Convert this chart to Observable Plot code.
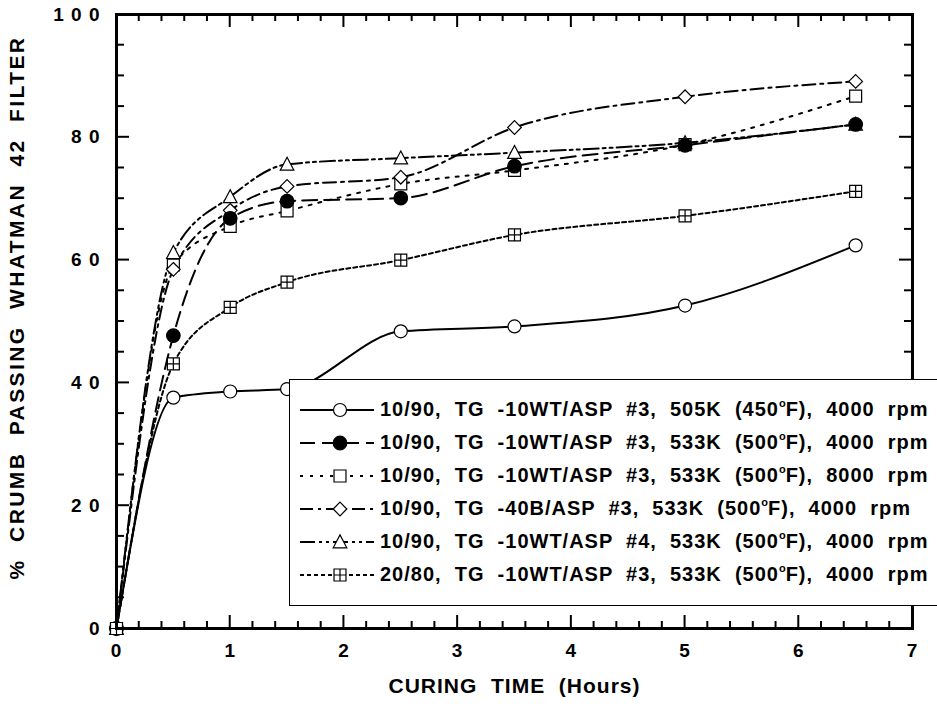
<!DOCTYPE html>
<html><head><meta charset="utf-8">
<script src="https://cdn.jsdelivr.net/npm/d3@7"></script>
<script src="https://cdn.jsdelivr.net/npm/@observablehq/plot@0.6"></script>
<style>
body{margin:0;background:#fff;}
#wrap{position:relative;width:937px;height:706px;overflow:hidden;font-family:"Liberation Sans",Arial,sans-serif;}
#wrap svg text{white-space:pre;}
#ticks{position:absolute;left:0;top:0;pointer-events:none;}
#legend{position:absolute;left:289px;top:379px;width:660px;height:227px;border:1.5px solid #000;background:#fff;box-sizing:border-box;padding-top:13px;}
.row{display:flex;align-items:center;height:33px;}
.row svg{flex:none;margin-left:8px;}
.row span{white-space:pre;font:bold 20px "Liberation Sans",Arial,sans-serif;letter-spacing:1px;margin-left:6px;color:#000;}
.row sup{font-size:11px;vertical-align:9px;line-height:0;letter-spacing:0;}
</style></head><body><div id="wrap"></div>
<script>
// ---- data ----
const hours = [0, 0.5, 1, 1.5, 2.5, 3.5, 5, 6.5];
const seriesNames = [
  "10/90,  TG  -10WT/ASP  #3,  505K  (450°F),  4000  rpm",
  "10/90,  TG  -10WT/ASP  #3,  533K  (500°F),  4000  rpm",
  "10/90,  TG  -10WT/ASP  #3,  533K  (500°F),  8000  rpm",
  "10/90,  TG  -40B/ASP  #3,  533K  (500°F),  4000  rpm",
  "10/90,  TG  -10WT/ASP  #4,  533K  (500°F),  4000  rpm",
  "20/80,  TG  -10WT/ASP  #3,  533K  (500°F),  4000  rpm"
];
const s1 = [0, 37.6, 38.6, 39.0, 48.4, 49.2, 52.6, 62.4];
const s2 = [0, 47.7, 66.8, 69.6, 70.1, 75.3, 78.7, 82.1];
const s3 = [0, 59.2, 65.5, 68.0, 72.4, 74.6, 78.8, 86.7];
const s4 = [0, 58.5, 68.1, 72.0, 73.5, 81.6, 86.6, 89.1];
const s5 = [0, 61.2, 70.3, 75.6, 76.6, 77.5, 79.1, 82.1];
const s6 = [0, 43.1, 52.3, 56.4, 60.0, 64.1, 67.2, 71.2];
const seriesValues = [s1, s2, s3, s4, s5, s6];
const xTicks = [0, 1, 2, 3, 4, 5, 6, 7];
const yTicks = [0, 20, 40, 60, 80, 100];
const xTitle = "CURING  TIME  (Hours)";
const yTitle = "%  CRUMB  PASSING  WHATMAN  42  FILTER";

// ---- styles ----
const dashes = ["none", "15,7", "3,7", "13,5,3,5", "15,4,3,4,3,4", "4,3"];
const fills = ["white", "black", "white", "white", "white", "white"];
const squareSym = {draw(c, size){const h = Math.sqrt(size/Math.PI)*0.92; c.moveTo(-h,-h); c.lineTo(h,-h); c.lineTo(h,h); c.lineTo(-h,h); c.closePath();}};
const diamondSym = {draw(c, size){const h = Math.sqrt(size/Math.PI)*1.05; c.moveTo(0,-h); c.lineTo(h,0); c.lineTo(0,h); c.lineTo(-h,0); c.closePath();}};
const triangleSym = {draw(c, size){const r = Math.sqrt(size/Math.PI); c.moveTo(0,-r*1.05); c.lineTo(r*1.0,r*0.85); c.lineTo(-r*1.0,r*0.85); c.closePath();}};
const squarePlusSym = {draw(c, size){const h = Math.sqrt(size/Math.PI)*0.92; c.moveTo(-h,-h); c.lineTo(h,-h); c.lineTo(h,h); c.lineTo(-h,h); c.closePath(); c.moveTo(0,-h); c.lineTo(0,h); c.moveTo(-h,0); c.lineTo(h,0);}};
const symbols = ["circle", "circle", squareSym, diamondSym, triangleSym, squarePlusSym];
const radii = [6.5, 6.8, 6.5, 6.5, 6.8, 6.5];
const dotOrder = [0, 2, 3, 4, 1, 5];

const rows = [];
seriesValues.forEach((vals, i) => hours.forEach((h, j) => rows.push({series: i, x: h, y: vals[j]})));
const minorX = d3.range(0, 35).map(i => i / 5).filter(v => !Number.isInteger(v));
const minorY = d3.range(0, 21).map(i => i * 5).filter(v => v % 20 !== 0);
const spaced = d => String(d).split("").join(" ");

const marks = [];
seriesValues.forEach((vals, i) => {
  marks.push(Plot.line(rows.filter(r => r.series === i), {x: "x", y: "y", curve: "monotone-x", stroke: "black", strokeWidth: 2, strokeDasharray: dashes[i]}));
});
dotOrder.forEach(i => {
  marks.push(Plot.dot(rows.filter(r => r.series === i), {x: "x", y: "y", symbol: symbols[i], r: radii[i], fill: fills[i], stroke: "black", strokeWidth: 1.2}));
});
marks.push(Plot.axisX({ticks: xTicks, tickSize: 0, tickPadding: 15, tickFormat: d => String(d), fontSize: 19, fontWeight: "bold", label: null}));
marks.push(Plot.axisY({ticks: yTicks, tickSize: 0, tickPadding: 16, tickFormat: spaced, fontSize: 19, fontWeight: "bold", label: null}));
marks.push(Plot.frame({stroke: "black", strokeWidth: 3}));
marks.push(Plot.text([xTitle], {frameAnchor: "bottom", dy: 64, fontSize: 21, fontWeight: "bold"}));
marks.push(Plot.text([yTitle], {frameAnchor: "left", textAnchor: "middle", rotate: -90, dx: -99, dy: -14, fontSize: 21, fontWeight: "bold"}));

const chart = Plot.plot({
  width: 937, height: 706,
  marginLeft: 116, marginRight: 25, marginTop: 14, marginBottom: 78,
  x: {domain: [0, 7]},
  y: {domain: [0, 100]},
  style: {fontFamily: '"Liberation Sans", Arial, sans-serif', color: "black", background: "white", letterSpacing: "1px", overflow: "visible"},
  marks
});
const wrap = document.getElementById("wrap");
wrap.appendChild(chart);
try {
  d3.select(chart).selectAll("text").filter(function(){ return this.textContent === yTitle; }).style("letter-spacing", "2.4px");
} catch (e) {}

// ---- inward ticks on all four sides, placed with the chart's own scales (overlay) ----
try {
  const xs = chart.scale("x"), ys = chart.scale("y");
  const mainSvg = chart.tagName.toLowerCase() === "svg" ? chart :
    Array.from(chart.querySelectorAll("svg")).sort((a, b) => (b.clientWidth * b.clientHeight) - (a.clientWidth * a.clientHeight))[0];
  const wr = wrap.getBoundingClientRect(), sr = mainSvg.getBoundingClientRect();
  const ox = sr.left - wr.left, oy = sr.top - wr.top;
  const yBottom = ys.apply(0), yTop = ys.apply(100);
  const xLeft = xs.apply(0), xRight = xs.apply(7);
  const overlay = d3.create("svg").attr("id", "ticks").attr("width", 937).attr("height", 706);
  const tg = overlay.append("g").attr("transform", `translate(${ox},${oy})`)
    .attr("stroke", "black").attr("stroke-width", 2).attr("fill", "none");
  [[xTicks, 13], [minorX, 7]].forEach(([vals, len]) => vals.forEach(v => {
    const px = xs.apply(v);
    tg.append("line").attr("x1", px).attr("x2", px).attr("y1", yBottom).attr("y2", yBottom - len);
    tg.append("line").attr("x1", px).attr("x2", px).attr("y1", yTop).attr("y2", yTop + len);
  }));
  [[yTicks, 13], [minorY, 8]].forEach(([vals, len]) => vals.forEach(v => {
    const py = ys.apply(v);
    tg.append("line").attr("y1", py).attr("y2", py).attr("x1", xLeft).attr("x2", xLeft + len);
    tg.append("line").attr("y1", py).attr("y2", py).attr("x1", xRight).attr("x2", xRight - len);
  }));
  wrap.appendChild(overlay.node());
} catch (e) {}

// ---- legend ----
const legend = document.createElement("div");
legend.id = "legend";
seriesNames.forEach((name, i) => {
  const row = document.createElement("div");
  row.className = "row";
  const svg = d3.create("svg").attr("width", 76).attr("height", 20);
  svg.append("line").attr("x1", 2).attr("x2", 76).attr("y1", 10).attr("y2", 10)
    .attr("stroke", "black").attr("stroke-width", 2).attr("stroke-dasharray", dashes[i]);
  const typ = symbols[i] === "circle" ? d3.symbolCircle : symbols[i];
  svg.append("path").attr("transform", "translate(42,10)")
    .attr("d", d3.symbol().type(typ).size(Math.PI * radii[i] * radii[i])())
    .attr("fill", fills[i]).attr("stroke", "black").attr("stroke-width", 1.2);
  row.appendChild(svg.node());
  const span = document.createElement("span");
  const parts = name.split("°");
  span.append(parts[0]);
  const sup = document.createElement("sup"); sup.textContent = "o";
  span.append(sup);
  span.append(parts[1]);
  row.appendChild(span);
  legend.appendChild(row);
});
wrap.appendChild(legend);
</script></body></html>
